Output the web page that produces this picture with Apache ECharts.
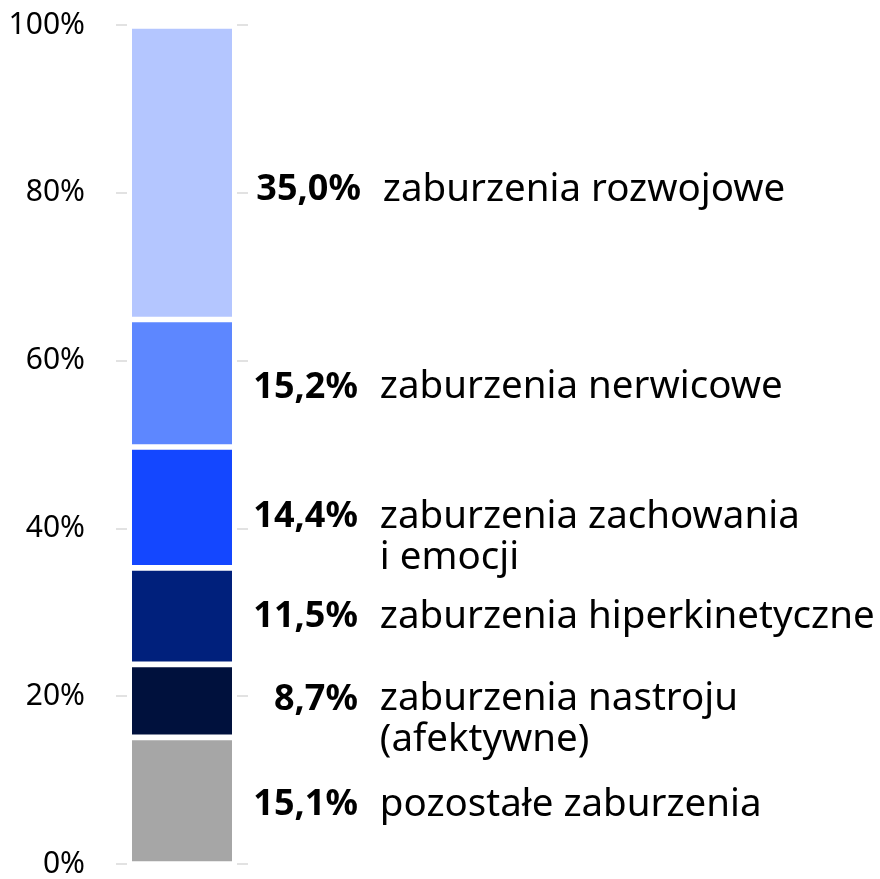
<!DOCTYPE html>
<html>
<head>
<meta charset="utf-8">
<script src="https://cdn.jsdelivr.net/npm/echarts@6/dist/echarts.min.js"></script>
<style>
  html, body { margin: 0; padding: 0; background: #fff; }
  #main { width: 880px; height: 879px; }
</style>
</head>
<body>
<div id="main"></div>
<script>
// dane od dołu słupka do góry
var categories = ['razem'];
var shares = [15.1, 8.7, 11.5, 14.4, 15.2, 35.0];
var shareLabels = ['15,1%', '8,7%', '11,5%', '14,4%', '15,2%', '35,0%'];
var names = [
    ['pozostałe zaburzenia'],
    ['zaburzenia nastroju', '(afektywne)'],
    ['zaburzenia hiperkinetyczne'],
    ['zaburzenia zachowania', 'i emocji'],
    ['zaburzenia nerwicowe'],
    ['zaburzenia rozwojowe']
];
var yTicks = [0, 20, 40, 60, 80, 100];

var colors = ['#a6a6a6', '#00113d', '#00207c', '#1447ff', '#5d87ff', '#b4c6ff'];
// przesunięcie etykiet [x, y]
var labelShift = [[0, 4], [0, 19], [0, 1], [0, 30], [0, 4], [3, 17]];

var font = 'Noto Sans';
var pctBox = 118; // szerokość pola na procent (wyrównanie do prawej)

// pomiar szerokości pogrubionych procentów
var measure = document.createElement('canvas').getContext('2d');
measure.font = 'bold 36px "' + font + '"';

var chart = echarts.init(document.getElementById('main'));

var series = [];
for (var i = 0; i < shares.length; i++) {
    var lines = names[i];
    var txt = '{p|' + shareLabels[i] + '}{t|' + lines[0] + '}';
    for (var j = 1; j < lines.length; j++) {
        txt += '\n{s| }{t|' + lines[j] + '}';
    }
    var w = measure.measureText(shareLabels[i]).width;
    series.push({
        type: 'bar',
        stack: 'all',
        barWidth: 105.7,
        data: [shares[i]],
        itemStyle: {
            color: colors[i],
            borderColor: '#fff',
            borderWidth: 2.85
        },
        label: {
            show: true,
            position: 'right',
            distance: 5,
            align: 'left',
            offset: labelShift[i],
            formatter: txt,
            rich: {
                p: {
                    padding: [0, 0, 0, Math.max(0, pctBox - w)],
                    fontFamily: font,
                    fontWeight: 'bold',
                    fontSize: 36,
                    color: '#000',
                    lineHeight: 41
                },
                s: {
                    width: pctBox,
                    fontFamily: font,
                    fontSize: 36,
                    lineHeight: 41
                },
                t: {
                    padding: [0, 0, 0, 22],
                    fontFamily: font,
                    fontSize: 38.5,
                    color: '#000',
                    lineHeight: 41
                }
            }
        }
    });
}

var yAxisBase = {
    type: 'value',
    min: 0,
    max: 100,
    interval: 20,
    axisLine: { show: false },
    axisTick: {
        show: true,
        length: 11,
        lineStyle: { color: '#d9d9d9', width: 1.5 }
    },
    splitLine: { show: false }
};

var option = {
    animation: false,
    grid: {
        left: 127,
        right: 643,
        top: 25,
        bottom: 12,
        containLabel: false
    },
    xAxis: {
        type: 'category',
        data: categories,
        show: false
    },
    yAxis: [
        Object.assign({}, yAxisBase, {
            position: 'left',
            axisLabel: {
                margin: 42,
                fontFamily: font,
                fontSize: 30,
                color: '#000',
                formatter: function (v) { return v + '%'; },
                customValues: yTicks
            }
        }),
        Object.assign({}, yAxisBase, {
            position: 'right',
            axisLabel: { show: false }
        })
    ],
    series: series
};

chart.setOption(option);
</script>
</body>
</html>
